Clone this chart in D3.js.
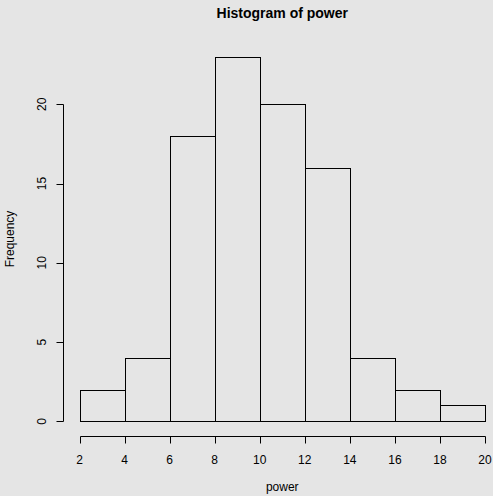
<!DOCTYPE html>
<html>
<head>
<meta charset="utf-8">
<script src="https://cdn.jsdelivr.net/npm/d3@7"></script>
<style>
  body { margin: 0; background: #e5e5e5; }
  svg { display: block; }
  text { font-family: "Liberation Sans", Arial, Helvetica, sans-serif; fill: #000; }
</style>
</head>
<body>
<svg id="chart" width="493" height="496"></svg>
<script>
// histogram of power : breaks and counts
var breaks = [2, 4, 6, 8, 10, 12, 14, 16, 18, 20];
var counts = [2, 4, 18, 23, 20, 16, 4, 2, 1];
var xTicks = [2, 4, 6, 8, 10, 12, 14, 16, 18, 20];
var yTicks = [0, 5, 10, 15, 20];

var svg = d3.select("#chart");
var W = 493, H = 496;

svg.append("rect").attr("width", W).attr("height", H).attr("fill", "#e5e5e5");

var x = d3.scaleLinear().domain([2, 20]).range([79.5, 485]);
var y = d3.scaleLinear().domain([0, 20]).range([421.3, 104.3]);

// centre de la zone de tracé (domaine étendu de 4%, comme R)
var plotCy = (y(-0.92) + y(23.92)) / 2;
var plotCx = (x(1.28) + x(20.72)) / 2;

var bins = counts.map(function(c, i) { return {x0: breaks[i], x1: breaks[i + 1], n: c}; });

// barres
svg.append("g").selectAll("rect")
    .data(bins)
    .enter().append("rect")
    .attr("x", function(d) { return Math.round(x(d.x0)) + 0.5; })
    .attr("y", function(d) { return Math.round(y(d.n)) + 0.5; })
    .attr("width", function(d) { return Math.round(x(d.x1)) - Math.round(x(d.x0)); })
    .attr("height", function(d) { return Math.round(y(0)) - Math.round(y(d.n)); })
    .attr("fill", "none")
    .attr("stroke", "#000")
    .attr("stroke-width", 1);

// axe x
var xAxisY = 436.5;
var gx = svg.append("g");
gx.append("line")
    .attr("x1", Math.round(x(2)) + 0.5).attr("x2", Math.round(x(20)) + 0.5)
    .attr("y1", xAxisY).attr("y2", xAxisY)
    .attr("stroke", "#000");
gx.selectAll(".tick").data(xTicks).enter().append("line")
    .attr("x1", function(d) { return Math.round(x(d)) + 0.5; })
    .attr("x2", function(d) { return Math.round(x(d)) + 0.5; })
    .attr("y1", xAxisY).attr("y2", xAxisY + 7)
    .attr("stroke", "#000");
gx.selectAll("text").data(xTicks).enter().append("text")
    .attr("x", function(d) { return x(d); })
    .attr("y", 464)
    .attr("text-anchor", "middle")
    .style("font-size", "12px")
    .text(function(d) { return d; });

// axe y
var yAxisX = 63.5;
var gy = svg.append("g");
gy.append("line")
    .attr("x1", yAxisX).attr("x2", yAxisX)
    .attr("y1", Math.round(y(0)) + 0.5).attr("y2", Math.round(y(20)) + 0.5)
    .attr("stroke", "#000");
gy.selectAll(".tick").data(yTicks).enter().append("line")
    .attr("x1", yAxisX - 7).attr("x2", yAxisX)
    .attr("y1", function(d) { return Math.round(y(d)) + 0.5; })
    .attr("y2", function(d) { return Math.round(y(d)) + 0.5; })
    .attr("stroke", "#000");
gy.selectAll("text").data(yTicks).enter().append("text")
    .attr("transform", function(d) { return "translate(46," + y(d) + ") rotate(-90)"; })
    .attr("text-anchor", "middle")
    .style("font-size", "12px")
    .text(function(d) { return d; });

// titres
svg.append("text")
    .attr("x", plotCx).attr("y", 18)
    .attr("text-anchor", "middle")
    .style("font-size", "14px").style("font-weight", "bold")
    .text("Histogram of power");

svg.append("text")
    .attr("x", plotCx).attr("y", 491)
    .attr("text-anchor", "middle")
    .style("font-size", "12px")
    .text("power");

svg.append("text")
    .attr("transform", "translate(14," + plotCy + ") rotate(-90)")
    .attr("text-anchor", "middle")
    .style("font-size", "12px")
    .text("Frequency");
</script>
</body>
</html>
